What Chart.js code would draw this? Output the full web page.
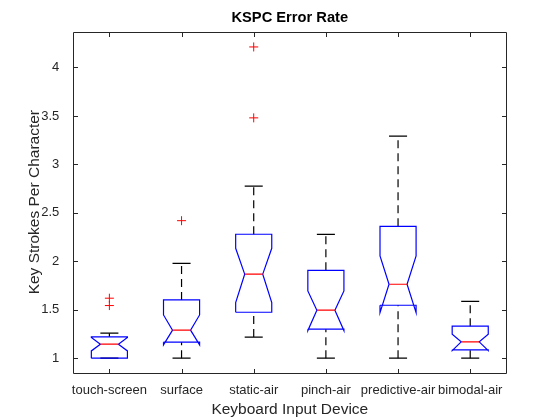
<!DOCTYPE html>
<html>
<head>
<title>KSPC Error Rate</title>
<script src="https://cdn.jsdelivr.net/npm/chart.js"></script>
<style>
  html, body { margin: 0; padding: 0; background: #fff; }
</style>
</head>
<body>
<canvas id="kspc-chart" width="560" height="420"></canvas>
<script>
'use strict';

// values
const categories = ['touch-screen', 'surface', 'static-air', 'pinch-air', 'predictive-air', 'bimodal-air'];
const q1 = [1.0, 1.165, 1.474, 1.299, 1.546, 1.086];
const median = [1.144, 1.289, 1.867, 1.495, 1.763, 1.168];
const q3 = [1.22, 1.601, 2.279, 1.907, 2.361, 1.33];
const notchLow = [1.075, 1.137, 1.573, 1.285, 1.47, 1.078];
const notchHigh = [1.213, 1.446, 2.134, 1.694, 2.055, 1.247];
const whiskerLow = [1.0, 1.0, 1.218, 1.0, 1.0, 1.0];
const whiskerHigh = [1.258, 1.979, 2.776, 2.278, 3.292, 1.587];
const outliers = [[1.619, 1.543], [2.419], [4.212, 3.48], [], [], []];
const yTicks = [1, 1.5, 2, 2.5, 3, 3.5, 4];

const axisColor = '#262626';
const fontFamily = "'Liberation Sans', Arial, Helvetica, sans-serif";
const boxHalf = 0.25;
const capHalf = 0.125;
const tickLen = 4.5;
const gap = {x: null, y: null};

function boxOutline(i) {
    const x = i + 1;
    return [
        {x: x - boxHalf, y: q1[i]},
        {x: x - boxHalf, y: notchLow[i]},
        {x: x - boxHalf / 2, y: median[i]},
        {x: x - boxHalf, y: notchHigh[i]},
        {x: x - boxHalf, y: q3[i]},
        {x: x + boxHalf, y: q3[i]},
        {x: x + boxHalf, y: notchHigh[i]},
        {x: x + boxHalf / 2, y: median[i]},
        {x: x + boxHalf, y: notchLow[i]},
        {x: x + boxHalf, y: q1[i]},
        {x: x - boxHalf, y: q1[i]},
        gap
    ];
}

let boxPts = [], medianPts = [], whiskerPts = [], capPts = [], outlierPts = [];
categories.forEach(function (c, i) {
    const x = i + 1;
    boxPts = boxPts.concat(boxOutline(i));
    medianPts.push({x: x - boxHalf / 2, y: median[i]}, {x: x + boxHalf / 2, y: median[i]}, gap);
    whiskerPts.push({x: x, y: q3[i]}, {x: x, y: whiskerHigh[i]}, gap);
    whiskerPts.push({x: x, y: whiskerLow[i]}, {x: x, y: q1[i]}, gap);
    capPts.push({x: x - capHalf, y: whiskerHigh[i]}, {x: x + capHalf, y: whiskerHigh[i]}, gap);
    capPts.push({x: x - capHalf, y: whiskerLow[i]}, {x: x + capHalf, y: whiskerLow[i]}, gap);
    outliers[i].forEach(function (v) { outlierPts.push({x: x, y: v}); });
});

const lineBase = {
    showLine: true,
    pointRadius: 0,
    borderWidth: 1.2,
    tension: 0,
    fill: false,
    spanGaps: false
};

// MATLAB style frame with inward tick marks on all four sides
const axesFrame = {
    id: 'axesFrame',
    afterDraw(chart) {
        const {ctx, chartArea: a} = chart;
        const xs = chart.scales.x, ys = chart.scales.y;
        const L = Math.round(a.left) + 0.5, R = Math.round(a.right) + 0.5;
        const T = Math.round(a.top) + 0.5, B = Math.round(a.bottom) + 0.5;
        ctx.save();
        ctx.strokeStyle = axisColor;
        ctx.lineWidth = 1;
        ctx.beginPath();
        ctx.rect(L, T, R - L, B - T);
        yTicks.forEach(function (v) {
            const py = Math.round(ys.getPixelForValue(v)) + 0.5;
            ctx.moveTo(L, py); ctx.lineTo(L + tickLen, py);
            ctx.moveTo(R, py); ctx.lineTo(R - tickLen, py);
        });
        categories.forEach(function (c, i) {
            const px = Math.round(xs.getPixelForValue(i + 1)) + 0.5;
            ctx.moveTo(px, B); ctx.lineTo(px, B - tickLen);
            ctx.moveTo(px, T); ctx.lineTo(px, T + tickLen);
        });
        ctx.stroke();
        ctx.restore();
    }
};

const ctx = document.getElementById('kspc-chart').getContext('2d');
new Chart(ctx, {
    type: 'scatter',
    data: {
        datasets: [{
            label: 'median',
            data: medianPts,
            borderColor: '#ff0000',
            ...lineBase
        }, {
            label: 'box',
            data: boxPts,
            borderColor: '#0000ff',
            ...lineBase
        }, {
            label: 'outliers',
            data: outlierPts,
            showLine: false,
            pointStyle: 'cross',
            pointRadius: 4.5,
            pointBorderWidth: 1,
            pointBorderColor: '#ff0000',
            pointBackgroundColor: '#ff0000'
        }, {
            label: 'caps',
            data: capPts,
            borderColor: '#000000',
            ...lineBase
        }, {
            label: 'whiskers',
            data: whiskerPts,
            borderColor: '#000000',
            borderDash: [8, 5],
            ...lineBase
        }]
    },
    options: {
        responsive: false,
        animation: false,
        events: [],
        layout: {
            padding: {top: 0, right: 53.7, bottom: 0, left: 0}
        },
        scales: {
            x: {
                type: 'linear',
                min: 0.5,
                max: 6.5,
                afterBuildTicks: function (scale) {
                    scale.ticks = categories.map(function (c, i) { return {value: i + 1}; });
                },
                afterFit: function (scale) {
                    scale.height = 47.3;
                },
                grid: {display: false},
                border: {display: false},
                ticks: {
                    color: axisColor,
                    font: {family: fontFamily, size: 13},
                    padding: 2,
                    maxRotation: 0,
                    autoSkip: false,
                    callback: function (value) {
                        return categories[value - 1];
                    }
                },
                title: {
                    display: true,
                    text: 'Keyboard Input Device',
                    color: axisColor,
                    font: {family: fontFamily, size: 15.5},
                    padding: {top: 1, bottom: 1}
                }
            },
            y: {
                type: 'linear',
                min: 0.85,
                max: 4.37,
                afterBuildTicks: function (scale) {
                    scale.ticks = yTicks.map(function (v) { return {value: v}; });
                },
                afterFit: function (scale) {
                    scale.width = 73.3;
                },
                grid: {display: false},
                border: {display: false},
                ticks: {
                    color: axisColor,
                    font: {family: fontFamily, size: 13},
                    padding: 6,
                    callback: function (value) {
                        return String(value);
                    }
                },
                title: {
                    display: true,
                    text: 'Key Strokes Per Character',
                    color: axisColor,
                    font: {family: fontFamily, size: 15.5},
                    padding: {top: 25.5, bottom: 25.5}
                }
            }
        },
        plugins: {
            legend: {display: false},
            tooltip: {enabled: false},
            title: {
                display: true,
                text: 'KSPC Error Rate',
                fullSize: false,
                color: '#000000',
                font: {family: fontFamily, size: 14.7, weight: 'bold'},
                padding: {top: 9.5, bottom: 4.5}
            }
        }
    },
    plugins: [axesFrame]
});
</script>
</body>
</html>
